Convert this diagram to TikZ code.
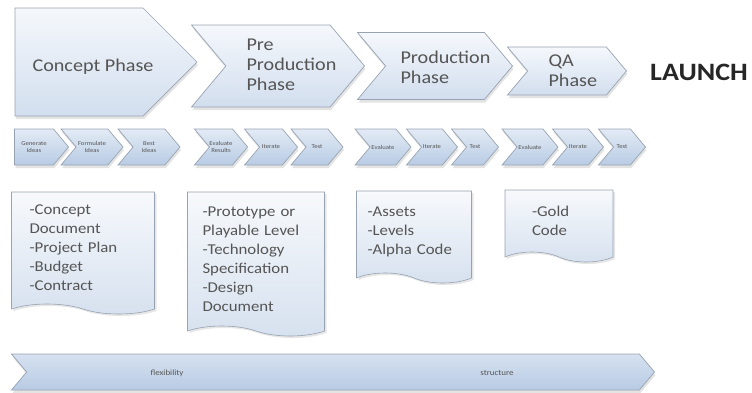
\documentclass[tikz,border=0pt]{standalone}
\usepackage{fontspec}
\setmainfont[FakeStretch=1.12]{Carlito}
\usetikzlibrary{shapes.symbols,shadows}

\definecolor{phasetop}{HTML}{F5F8FC}
\definecolor{phasebot}{HTML}{D2DEEE}
\definecolor{steptop}{HTML}{E3EBF5}
\definecolor{stepbot}{HTML}{B8CBE4}
\definecolor{doctop}{HTML}{F7F9FC}
\definecolor{docbot}{HTML}{D6E1EF}
\definecolor{edgegray}{HTML}{98A3B2}
\definecolor{txtgray}{HTML}{555555}

\begin{document}
\begin{tikzpicture}[x=1pt,y=-1pt,
		chev/.style={signal,signal to=east,signal from=west,signal pointer angle=100,
			draw=edgegray,line width=0.7pt,top color=phasetop,bottom color=phasebot,
			drop shadow={opacity=0.22,shadow xshift=1pt,shadow yshift=-3pt},
			inner sep=0pt,text=txtgray},
		phasetxt/.style={anchor=west,align=left,text=txtgray,font=\fontsize{18}{20}\selectfont},
		stepchev/.style={chev,top color=steptop,bottom color=stepbot,minimum height=36pt,
			align=center,font=\fontsize{6}{7}\selectfont},
		doc/.style={tape,tape bend top=none,tape bend bottom=out and in,tape bend height=10pt,
			draw=edgegray,line width=0.6pt,top color=doctop,bottom color=docbot,
			drop shadow={opacity=0.2,shadow xshift=2pt,shadow yshift=-2pt},
			align=left,text=txtgray,font=\fontsize{15}{19}\selectfont,inner ysep=4pt},
		tiny/.style={text=txtgray,font=\fontsize{8}{9}\selectfont}]
		\useasboundingbox (0,0) rectangle (752,392);

		% phases
		\node[chev,signal from=nowhere,signal pointer angle=90,minimum width=182pt,minimum height=108pt] at (79,62)(concept){};
		\node[chev,minimum width=173pt,minimum height=82pt] at (278,66)(pre){};
		\node[chev,minimum width=155pt,minimum height=67pt] at (435,66)(prod){};
		\node[chev,minimum width=119pt,minimum height=48pt] at (567,71)(qa){};
		\node[phasetxt] at (29,67)(conceptlbl){Concept Phase};
		\node[phasetxt] at (243,65)(prelbl){Pre\\Production\\Phase};
		\node[phasetxt] at (397,67)(prodlbl){Production\\Phase};
		\node[phasetxt] at (545,71)(qalbl){QA\\Phase};
		\node[font=\bfseries\fontsize{25}{28}\selectfont,text=black!85] at (699,72)(launch){LAUNCH};

		% steps under each phase
		\node[stepchev,signal from=nowhere,minimum width=54pt] at (34,147)(s1){Generate\\Ideas};
		\node[stepchev,minimum width=62pt] at (92,147)(s2){Formulate\\Ideas};
		\node[stepchev,minimum width=62pt] at (149,147)(s3){Best\\Ideas};
		\node[stepchev,minimum width=53pt] at (221,147)(s4){Evaluate\\Results};
		\node[stepchev,minimum width=53pt] at (271,147)(s5){Iterate};
		\node[stepchev,minimum width=52pt] at (317,147)(s6){Test};
		\node[stepchev,minimum width=56pt] at (383,147)(s7){Evaluate};
		\node[stepchev,minimum width=51pt] at (432,147)(s8){Iterate};
		\node[stepchev,minimum width=47pt] at (475,147)(s9){Test};
		\node[stepchev,minimum width=56pt] at (530,147)(s10){Evaluate};
		\node[stepchev,minimum width=51pt] at (578,147)(s11){Iterate};
		\node[stepchev,minimum width=47pt] at (622,147)(s12){Test};

		% deliverables
		\node[doc,text width=107pt,inner xsep=18pt,minimum height=122pt] at (83,248)(d1){-Concept\\Document\\-Project Plan\\-Budget\\-Contract};
		\node[doc,text width=107pt,inner xsep=15pt,minimum height=144pt] at (256,259)(d2){-Prototype or\\Playable Level\\-Technology\\Specification\\-Design\\Document};
		\node[doc,text width=93pt,inner xsep=11pt,minimum height=92pt] at (414,232)(d3){-Assets\\-Levels\\-Alpha Code};
		\node[doc,text width=54pt,inner xsep=27pt,minimum height=72pt] at (559,221)(d4){-Gold\\Code};

		% flexibility -> structure
		\node[chev,top color=steptop!70!stepbot,bottom color=stepbot,minimum width=643pt,minimum height=36pt] at (333,372)(scale){};
		\node[tiny] at (167,373)(flex){flexibility};
		\node[tiny] at (497,373)(struct){structure};
	\end{tikzpicture}
\end{document}
